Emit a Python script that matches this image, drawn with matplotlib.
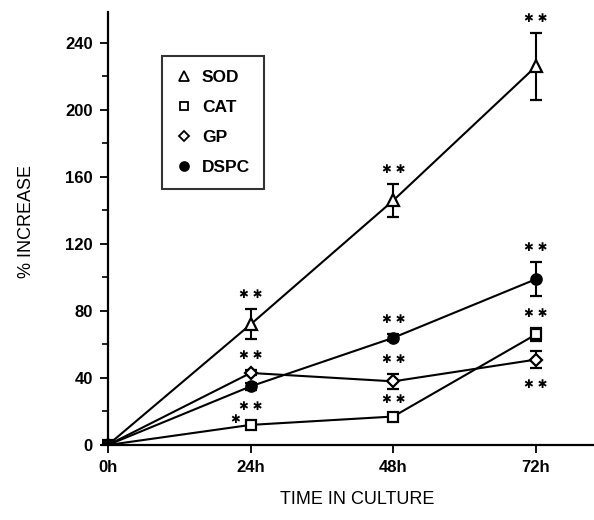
import matplotlib
matplotlib.use("Agg")
import matplotlib.pyplot as plt
from matplotlib.lines import Line2D

plt.rcParams['font.family'] = ['Liberation Sans', 'DejaVu Sans']

# ---- data ----
hours = [0, 24, 48, 72]
xtick_labels = ["0h", "24h", "48h", "72h"]
yticks = [0, 40, 80, 120, 160, 200, 240]

sod = [0, 72, 146, 226]
sod_err = [0, 9, 10, 20]
cat = [0, 12, 17, 66]
cat_err = [0, 1.5, 1.5, 4]
gp = [0, 43, 38, 51]
gp_err = [0, 1.5, 4.5, 5]
dspc = [0, 35, 64, 99]
dspc_err = [0, 2, 2, 10]

series_names = ["SOD", "CAT", "GP", "DSPC"]

# significance marks: (series, time index, text, side)
sig_series = ["SOD", "SOD", "SOD", "GP", "DSPC", "CAT",
              "DSPC", "GP", "CAT", "DSPC", "CAT", "GP"]
sig_index = [1, 2, 3, 1, 1, 1, 2, 2, 2, 3, 3, 3]
sig_text = ["**", "**", "**", "**", "**", "*",
            "**", "**", "**", "**", "**", "**"]
sig_side = ["above", "above", "above", "above", "below", "left",
            "above", "above", "above", "above", "above", "below"]

values = {"SOD": (sod, sod_err), "CAT": (cat, cat_err),
          "GP": (gp, gp_err), "DSPC": (dspc, dspc_err)}
styles = {"SOD": dict(marker="^", mfc="white", ms=8),
          "CAT": dict(marker="s", mfc="white", ms=7),
          "GP": dict(marker="D", mfc="white", ms=6),
          "DSPC": dict(marker="o", mfc="black", ms=7.5)}

fig = plt.figure(figsize=(5.94, 5.2), dpi=100)
ax = fig.add_axes([102 / 594, 75 / 520, 491 / 594, 433 / 520])

for name in series_names:
    y, e = values[name]
    st = styles[name]
    ax.errorbar(hours, y, yerr=e, color="black", lw=1.5, elinewidth=1.5,
                capsize=4, capthick=1.5, marker=st["marker"], ms=st["ms"],
                mfc=st["mfc"], mec="black", mew=1.6, zorder=3)

for s, i, t, side in zip(sig_series, sig_index, sig_text, sig_side):
    y, e = values[s]
    if side == "above":
        xy = (hours[i], y[i] + e[i]); off = (0, 11.5)
    elif side == "below":
        xy = (hours[i], y[i] - e[i]); off = (0, -11)
    else:
        xy = (hours[i], y[i]); off = (-11, 5)
    label = " ".join("\u2731" for _ in t)
    ax.annotate(label, xy=xy, xytext=off, textcoords="offset points",
                ha="center", va="center_baseline", fontsize=8.5,
                family="DejaVu Sans")

ax.set_xlim(-1, 81.6)
ax.set_ylim(0, 258.5)
ax.spines["left"].set_position(("data", 0))
ax.spines["right"].set_visible(False)
ax.spines["top"].set_visible(False)
for sp in ("left", "bottom"):
    ax.spines[sp].set_linewidth(1.6)

ax.set_xticks(hours)
ax.set_xticklabels(xtick_labels, fontsize=12, fontweight="bold")
ax.set_yticks(yticks)
ax.set_yticklabels([str(v) for v in yticks], fontsize=12, fontweight="bold")
ax.set_yticks(list(range(20, 260, 40)), minor=True)
ax.tick_params(axis="both", which="major", direction="out", length=6,
               width=1.3, pad=5)
ax.tick_params(axis="y", which="minor", direction="out", length=4, width=1.2)

fig.text(357 / 594, 1 - 500 / 520, "TIME IN CULTURE", ha="center",
         va="center", fontsize=13)
fig.text(27 / 594, 1 - 222 / 520, "% INCREASE", ha="center", va="center",
         rotation=90, fontsize=13)

handles = [Line2D([], [], ls="none", marker=styles[n]["marker"],
                  ms=styles[n]["ms"] * 0.85, mfc=styles[n]["mfc"],
                  mec="black", mew=1.3) for n in series_names]
leg = ax.legend(handles, series_names, loc="upper left",
                bbox_to_anchor=(0.122, 0.898), borderaxespad=0,
                frameon=True, fancybox=False, edgecolor="black",
                prop=dict(size=12.5, weight="bold"), labelspacing=0.85,
                handlelength=1.0, handletextpad=0.5, borderpad=0.8)
leg.get_frame().set_linewidth(1.5)

fig.savefig("out.png", dpi=100)
